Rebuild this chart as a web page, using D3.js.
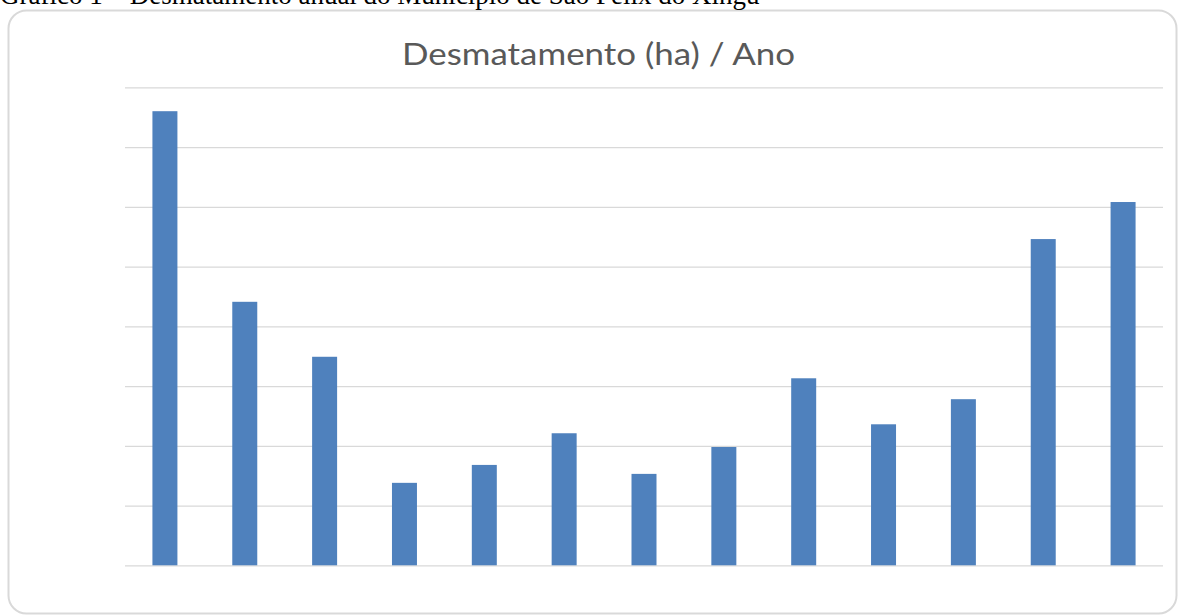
<!DOCTYPE html>
<html>
<head>
<meta charset="utf-8">
<script src="https://cdn.jsdelivr.net/npm/d3@7"></script>
<style>
  html, body { margin: 0; padding: 0; background: #ffffff; }
  svg { display: block; }
</style>
</head>
<body>
<svg id="chart" width="1178" height="615"></svg>
<script>
// ---- data ----
const captionText = "Gráfico 1 – Desmatamento anual do Município de São Félix do Xingu";
const chartTitle = "Desmatamento (ha) / Ano";
const categories = ["2008","2009","2010","2011","2012","2013","2014","2015","2016","2017","2018","2019","2020"];
const values = [76000, 44100, 34900, 13800, 16800, 22100, 15300, 19800, 31300, 23600, 27800, 54600, 60800];
const yTicks = [0, 10000, 20000, 30000, 40000, 50000, 60000, 70000, 80000];

// ---- layout ----
const svg = d3.select("#chart");
const W = 1178, H = 615;
const plot = { left: 125, right: 1163, top: 87.3, bottom: 565.3 };

// outer frame
svg.append("rect")
  .attr("x", 8.5).attr("y", 10.5)
  .attr("width", 1168).attr("height", 603)
  .attr("rx", 18).attr("ry", 18)
  .attr("fill", "#ffffff")
  .attr("stroke", "#d9d9d9")
  .attr("stroke-width", 2);

// caption (cut off at top)
svg.append("text")
  .attr("x", 0).attr("y", 4)
  .attr("font-family", "'Liberation Serif', 'Times New Roman', serif")
  .attr("font-size", 27)
  .attr("fill", "#000000")
  .text(captionText);

// scales
const x = d3.scaleBand()
  .domain(categories)
  .range([plot.left, plot.right])
  .paddingInner(0.687)
  .paddingOuter(0.3435);

const y = d3.scaleLinear()
  .domain([0, 80000])
  .range([plot.bottom, plot.top]);

// gridlines via axis
const grid = svg.append("g")
  .attr("transform", `translate(${plot.left},0)`)
  .call(d3.axisLeft(y).tickValues(yTicks).tickSize(-(plot.right - plot.left)).tickFormat(""));
grid.select(".domain").remove();
grid.selectAll(".tick line").attr("stroke", "#d9d9d9").attr("stroke-width", 1.3);

// bars
svg.append("g").selectAll("rect")
  .data(values)
  .join("rect")
  .attr("x", (d, i) => x(categories[i]))
  .attr("width", x.bandwidth())
  .attr("y", d => y(d))
  .attr("height", d => y(0) - y(d))
  .attr("fill", "#4f81bd");

// title
const t = svg.append("text")
  .attr("x", 598.5).attr("y", 65)
  .attr("text-anchor", "middle")
  .attr("font-family", "Lato, 'Open Sans', sans-serif")
  .attr("font-size", 30)
  .attr("fill", "#595959")
  .text(chartTitle);
const len = t.node().getComputedTextLength();
if (Math.abs(len - 393) > 4) {
  t.attr("textLength", 393).attr("lengthAdjust", "spacingAndGlyphs");
}
</script>
</body>
</html>
